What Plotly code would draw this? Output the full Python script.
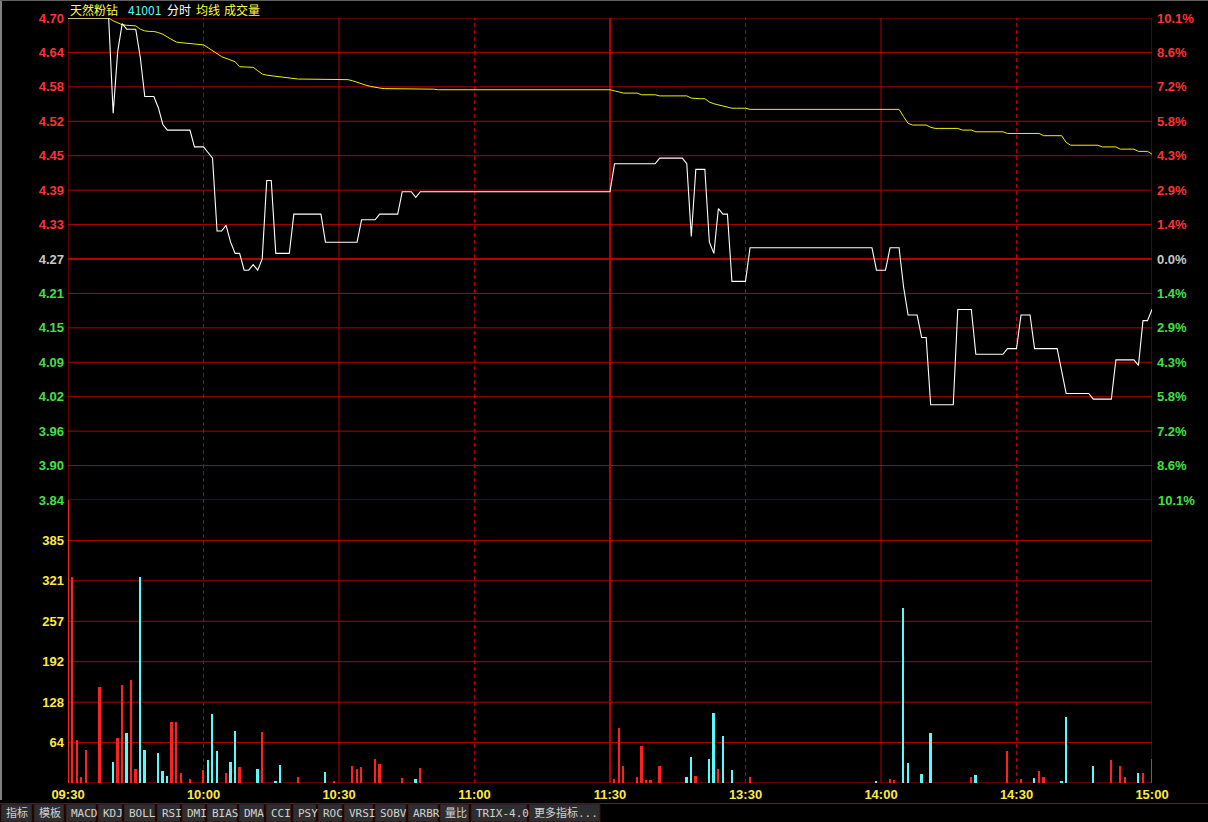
import plotly.graph_objects as go

# ---------------- data ----------------
minutes = list(range(241))  # 09:30 .. 11:30 | 13:00 .. 15:00, one point per minute

price = [
    4.70, 4.70, 4.70, 4.70, 4.70, 4.70, 4.70, 4.70, 4.70, 4.70,
    4.53, 4.64, 4.69, 4.68, 4.68, 4.68, 4.63, 4.56, 4.56, 4.56,
    4.54, 4.51, 4.50, 4.50, 4.50, 4.50, 4.50, 4.50, 4.47, 4.47,
    4.47, 4.46, 4.45, 4.32, 4.32, 4.33, 4.30, 4.28, 4.28, 4.25,
    4.25, 4.26, 4.25, 4.27, 4.41, 4.41, 4.28, 4.28, 4.28, 4.28,
    4.35, 4.35, 4.35, 4.35, 4.35, 4.35, 4.35, 4.30, 4.30, 4.30,
    4.30, 4.30, 4.30, 4.30, 4.30, 4.34, 4.34, 4.34, 4.34, 4.35,
    4.35, 4.35, 4.35, 4.35, 4.39, 4.39, 4.39, 4.38, 4.39, 4.39,
    4.39, 4.39, 4.39, 4.39, 4.39, 4.39, 4.39, 4.39, 4.39, 4.39,
    4.39, 4.39, 4.39, 4.39, 4.39, 4.39, 4.39, 4.39, 4.39, 4.39,
    4.39, 4.39, 4.39, 4.39, 4.39, 4.39, 4.39, 4.39, 4.39, 4.39,
    4.39, 4.39, 4.39, 4.39, 4.39, 4.39, 4.39, 4.39, 4.39, 4.39,
    4.39, 4.44, 4.44, 4.44, 4.44, 4.44, 4.44, 4.44, 4.44, 4.44,
    4.44, 4.45, 4.45, 4.45, 4.45, 4.45, 4.45, 4.44, 4.31, 4.43,
    4.43, 4.43, 4.30, 4.28, 4.36, 4.35, 4.35, 4.23, 4.23, 4.23,
    4.23, 4.29, 4.29, 4.29, 4.29, 4.29, 4.29, 4.29, 4.29, 4.29,
    4.29, 4.29, 4.29, 4.29, 4.29, 4.29, 4.29, 4.29, 4.29, 4.29,
    4.29, 4.29, 4.29, 4.29, 4.29, 4.29, 4.29, 4.29, 4.29, 4.25,
    4.25, 4.25, 4.29, 4.29, 4.29, 4.22, 4.17, 4.17, 4.17, 4.13,
    4.13, 4.01, 4.01, 4.01, 4.01, 4.01, 4.01, 4.18, 4.18, 4.18,
    4.18, 4.10, 4.10, 4.10, 4.10, 4.10, 4.10, 4.10, 4.11, 4.11,
    4.11, 4.17, 4.17, 4.17, 4.11, 4.11, 4.11, 4.11, 4.11, 4.11,
    4.07, 4.03, 4.03, 4.03, 4.03, 4.03, 4.03, 4.02, 4.02, 4.02,
    4.02, 4.02, 4.09, 4.09, 4.09, 4.09, 4.09, 4.08, 4.16, 4.16,
    4.18,
]

avg_price = [
    4.700, 4.700, 4.700, 4.700, 4.700, 4.700, 4.700, 4.700, 4.700, 4.700,
    4.695, 4.692, 4.688, 4.687, 4.686, 4.686, 4.680, 4.677, 4.676, 4.676,
    4.674, 4.671, 4.666, 4.661, 4.657, 4.656, 4.655, 4.654, 4.653, 4.652,
    4.652, 4.647, 4.642, 4.637, 4.631, 4.628, 4.625, 4.622, 4.613, 4.613,
    4.612, 4.612, 4.606, 4.600, 4.598, 4.597, 4.596, 4.594, 4.593, 4.592,
    4.591, 4.591, 4.591, 4.591, 4.591, 4.591, 4.591, 4.590, 4.590, 4.590,
    4.590, 4.590, 4.590, 4.588, 4.585, 4.582, 4.580, 4.578, 4.576, 4.575,
    4.574, 4.574, 4.574, 4.574, 4.573, 4.573, 4.573, 4.573, 4.573, 4.573,
    4.573, 4.573, 4.572, 4.572, 4.572, 4.572, 4.572, 4.572, 4.572, 4.572,
    4.572, 4.572, 4.572, 4.572, 4.572, 4.572, 4.572, 4.572, 4.572, 4.572,
    4.572, 4.572, 4.572, 4.572, 4.572, 4.572, 4.572, 4.572, 4.572, 4.572,
    4.572, 4.572, 4.572, 4.572, 4.572, 4.572, 4.572, 4.572, 4.572, 4.572,
    4.572, 4.570, 4.568, 4.566, 4.566, 4.566, 4.566, 4.563, 4.563, 4.563,
    4.563, 4.561, 4.561, 4.561, 4.561, 4.561, 4.561, 4.561, 4.557, 4.556,
    4.556, 4.556, 4.550, 4.547, 4.545, 4.542, 4.541, 4.539, 4.539, 4.539,
    4.539, 4.537, 4.537, 4.537, 4.537, 4.537, 4.537, 4.537, 4.537, 4.537,
    4.537, 4.537, 4.537, 4.537, 4.537, 4.537, 4.537, 4.537, 4.537, 4.537,
    4.537, 4.537, 4.537, 4.537, 4.537, 4.537, 4.537, 4.537, 4.537, 4.537,
    4.537, 4.537, 4.537, 4.537, 4.537, 4.524, 4.512, 4.509, 4.509, 4.509,
    4.509, 4.505, 4.503, 4.503, 4.503, 4.503, 4.503, 4.503, 4.500, 4.500,
    4.500, 4.497, 4.497, 4.497, 4.497, 4.497, 4.497, 4.497, 4.494, 4.494,
    4.494, 4.494, 4.494, 4.494, 4.494, 4.494, 4.490, 4.490, 4.490, 4.490,
    4.490, 4.478, 4.473, 4.473, 4.473, 4.473, 4.473, 4.473, 4.473, 4.470,
    4.470, 4.470, 4.470, 4.466, 4.466, 4.466, 4.466, 4.462, 4.462, 4.462,
    4.457,
]

vol_minute = [0, 1, 2, 3, 4, 7, 10, 11, 12, 13, 14, 15, 16, 17, 20, 21, 22, 23, 24, 25,
              27, 30, 31, 32, 33, 35, 36, 37, 38, 42, 43, 46, 47, 51, 57, 59, 63, 64, 65, 68,
              69, 74, 77, 78, 121, 122, 123, 126, 127, 128, 129, 131, 137, 138, 139, 142, 143, 144, 145, 147,
              151, 179, 182, 183, 185, 186, 189, 191, 200, 201, 208, 211, 214, 215, 216, 220, 221, 227, 231, 233,
              234, 237, 238, 240]
vol_value = [449, 327, 68, 10, 52, 153, 34, 72, 155, 80, 163, 22, 327, 53, 47, 19, 11, 97, 97, 16,
             6, 21, 36, 109, 51, 16, 34, 83, 25, 23, 81, 3, 28, 10, 18, 2, 27, 22, 26, 38,
             30, 8, 6, 24, 7, 87, 27, 9, 58, 4, 4, 27, 9, 41, 11, 38, 111, 23, 75, 21,
             9, 3, 6, 5, 277, 31, 15, 80, 10, 13, 51, 6, 8, 19, 10, 3, 105, 27, 36, 27,
             10, 16, 16, 38]
vol_side = ["u", "u", "u", "u", "u", "u", "d", "u", "u", "d", "u", "u", "d", "d", "d", "d", "d", "u", "u", "u",
            "u", "u", "d", "d", "d", "u", "d", "d", "u", "d", "u", "d", "d", "u", "d", "u", "u", "u", "u", "u",
            "u", "u", "d", "u", "u", "u", "u", "u", "u", "u", "u", "u", "d", "d", "u", "d", "d", "u", "d", "d",
            "u", "d", "u", "u", "d", "d", "d", "d", "u", "d", "u", "u", "d", "u", "u", "d", "d", "d", "u", "u",
            "u", "d", "u", "u"]

time_ticks = [0, 30, 60, 90, 120, 150, 180, 210, 240]
time_labels = ["09:30", "10:00", "10:30", "11:00", "11:30", "13:30", "14:00", "14:30", "15:00"]

price_low, price_high = 3.84, 4.70
price_labels = ["3.84", "3.90", "3.96", "4.02", "4.09", "4.15", "4.21", "4.27",
                "4.33", "4.39", "4.45", "4.52", "4.58", "4.64", "4.70"]
pct_labels = ["", "8.6%", "7.2%", "5.8%", "4.3%", "2.9%", "1.4%", "0.0%",
              "1.4%", "2.9%", "4.3%", "5.8%", "7.2%", "8.6%", "10.1%"]
pct_bottom_label = "10.1%"
vol_max = 449
vol_labels = ["64", "128", "192", "257", "321", "385"]

header_name = "天然粉钻"
header_code = "41001"
tabs = ["指标", "模板", "MACD", "KDJ", "BOLL", "RSI", "DMI", "BIAS", "DMA", "CCI", "PSY",
        "ROC", "VRSI", "SOBV", "ARBR", "量比", "TRIX-4.0", "更多指标..."]

# ---------------- styling / layout ----------------
W, H = 1208, 822
L, R, T, B = 68, 1152, 18, 783          # plot area in pixels
SPLIT = 500                              # price / volume boundary
GRID = "#b40000"
UP = "#ff3232"
BAR_UP = "#ff2020"
DOWN = "#54fcfc"
GREEN = "#44e044"
YELLOW = "#ffe93b"
NEUTRAL = "#c8c8c8"


def px_x(px):
    return (px - L) / (R - L)


def px_y(py):
    return (B - py) / (B - T)


vol_dom_top = (B - SPLIT) / (B - T)
n_price_ticks = len(price_labels)
price_tickvals = [price_low + i * (price_high - price_low) / (n_price_ticks - 1) for i in range(n_price_ticks)]
mid = n_price_ticks // 2


def colored(t, c):
    return f'<span style="color:{c}">{t}</span>'


left_text = []
right_text = []
for i, t in enumerate(price_labels):
    c = GREEN if i < mid else (UP if i > mid else NEUTRAL)
    left_text.append(colored(t, c))
for i, t in enumerate(pct_labels):
    c = GREEN if i < mid else (UP if i > mid else NEUTRAL)
    right_text.append(colored(t, c))

vol_tickvals = [vol_max * (i + 1) / 7 for i in range(len(vol_labels))]

fig = go.Figure()

# average line (yellow) and price line (white)
fig.add_trace(go.Scatter(x=minutes, y=avg_price, mode="lines", xaxis="x2", yaxis="y",
                         line=dict(color="#f0f000", width=1), cliponaxis=False,
                         hoverinfo="skip", showlegend=False))
fig.add_trace(go.Scatter(x=minutes, y=price, mode="lines", xaxis="x2", yaxis="y",
                         line=dict(color="#ffffff", width=1.1), cliponaxis=False,
                         hoverinfo="skip", showlegend=False))
# right (percent) axis carrier
fig.add_trace(go.Scatter(x=[0], y=[price_low], mode="markers", xaxis="x2", yaxis="y3",
                         marker=dict(opacity=0), hoverinfo="skip", showlegend=False))

up_x = [m for m, s in zip(vol_minute, vol_side) if s == "u"]
up_v = [v for v, s in zip(vol_value, vol_side) if s == "u"]
dn_x = [m for m, s in zip(vol_minute, vol_side) if s == "d"]
dn_v = [v for v, s in zip(vol_value, vol_side) if s == "d"]
fig.add_trace(go.Bar(x=up_x, y=up_v, width=0.4, marker=dict(color=BAR_UP, line=dict(width=0)),
                     xaxis="x", yaxis="y2", hoverinfo="skip", showlegend=False))
fig.add_trace(go.Bar(x=dn_x, y=dn_v, width=0.4, marker=dict(color=DOWN, line=dict(width=0)),
                     xaxis="x", yaxis="y2", hoverinfo="skip", showlegend=False))

shapes = []
# horizontal grid in price panel
for i, v in enumerate(price_tickvals):
    shapes.append(dict(type="line", xref="paper", yref="y", x0=0, x1=1, y0=v, y1=v,
                       line=dict(color=GRID, width=2 if i == mid else 1), layer="below"))
# horizontal grid in volume panel
for v in [0] + vol_tickvals:
    shapes.append(dict(type="line", xref="paper", yref="y2", x0=0, x1=1, y0=v, y1=v,
                       line=dict(color=GRID, width=1), layer="below"))
# vertical grid
for t in time_ticks:
    if t in (0, 240, 60, 180):
        ln = dict(color=GRID, width=1)
    elif t == 120:
        ln = dict(color=GRID, width=2)
    else:
        ln = dict(color=GRID, width=1, dash="4px,3px")
    shapes.append(dict(type="line", xref="x", yref="paper", x0=t, x1=t, y0=0, y1=1,
                       line=ln, layer="below"))

# bottom tab bar
tab_edges = [0, 33, 65, 97, 123, 156, 181, 206, 238, 265, 292, 317, 343, 374, 407, 439, 470, 528, 601]
shapes.append(dict(type="line", xref="paper", yref="paper", x0=px_x(0), x1=px_x(W),
                   y0=px_y(803.5), y1=px_y(803.5), line=dict(color=GRID, width=1)))
annotations = []
for i, name in enumerate(tabs):
    x0, x1 = tab_edges[i], tab_edges[i + 1]
    shapes.append(dict(type="rect", xref="paper", yref="paper",
                       x0=px_x(x0 + 1), x1=px_x(x1 - 1), y0=px_y(804), y1=px_y(822),
                       fillcolor="#2e2e2e", line=dict(color="#3a1010", width=1)))
    annotations.append(dict(x=px_x(x0 + 4), y=px_y(813), xref="paper", yref="paper",
                            text=name, showarrow=False, xanchor="left", yanchor="middle",
                            font=dict(family="DejaVu Sans Mono, Noto Sans CJK SC", size=11, color="#d2d2d2")))
# thin grey frame at the window edge
shapes.append(dict(type="line", xref="paper", yref="paper", x0=px_x(1), x1=px_x(1),
                   y0=px_y(0), y1=px_y(800), line=dict(color="#808080", width=2)))
shapes.append(dict(type="line", xref="paper", yref="paper", x0=px_x(0), x1=px_x(W),
                   y0=px_y(0.5), y1=px_y(0.5), line=dict(color="#606060", width=1)))

# header
hdr_font = "Noto Sans CJK SC"
for x, txt, col in [(68, header_name, "#ffff3c"), (126, header_code, DOWN), (165, "分时", "#ffffff"),
                    (194, "均线", "#ffff3c"), (222, "成交量", "#ffff3c")]:
    annotations.append(dict(x=px_x(x), y=px_y(9), xref="paper", yref="paper", text=txt,
                            showarrow=False, xanchor="left", yanchor="middle",
                            font=dict(family=hdr_font, size=12, color=col)))
# bottom label of the percent scale sits at the price/volume boundary
annotations.append(dict(x=1, y=price_low, xref="paper", yref="y", text=pct_bottom_label,
                        showarrow=False, xanchor="left", yanchor="middle", xshift=4,
                        font=dict(family="Liberation Sans", size=13, color=GREEN, weight="bold")))

tick_font = dict(family="Liberation Sans", size=13, weight="bold")

fig.update_layout(
    width=W, height=H,
    margin=dict(l=L, r=W - R, t=T, b=H - B, pad=0),
    paper_bgcolor="#000000", plot_bgcolor="#000000",
    showlegend=False, bargap=0, barmode="overlay",
    xaxis=dict(domain=[0, 1], range=[0, 240], anchor="y2", tickvals=time_ticks, ticktext=time_labels,
               showgrid=False, zeroline=False, showline=False, ticks="",
               tickfont=dict(tick_font, color=YELLOW, size=13), ticklabelstandoff=2, fixedrange=True),
    xaxis2=dict(domain=[0, 1], range=[0, 240], anchor="y", matches="x", showticklabels=False,
                showgrid=False, zeroline=False, showline=False, ticks=""),
    yaxis=dict(domain=[vol_dom_top, 1], range=[price_low, price_high], anchor="x2",
               tickvals=price_tickvals, ticktext=left_text, showgrid=False, zeroline=False,
               showline=False, ticks="", tickfont=tick_font, ticklabelstandoff=3),
    yaxis3=dict(overlaying="y", side="right", range=[price_low, price_high], anchor="x2",
                tickvals=price_tickvals[1:], ticktext=right_text[1:], showgrid=False, zeroline=False,
                showline=False, ticks="", tickfont=tick_font, ticklabelstandoff=4),
    yaxis2=dict(domain=[0, vol_dom_top], range=[0, vol_max], anchor="x",
                tickvals=vol_tickvals, ticktext=vol_labels, showgrid=False, zeroline=False,
                showline=False, ticks="", tickfont=dict(tick_font, color=YELLOW), ticklabelstandoff=3),
    shapes=shapes,
    annotations=annotations,
)

assert len(price) == 241 and len(avg_price) == 241
assert len(vol_minute) == len(vol_value) == len(vol_side)

fig.write_html("out.html", config={"displayModeBar": False},
               post_script="document.body.style.margin='0';document.body.style.background='#000';")
